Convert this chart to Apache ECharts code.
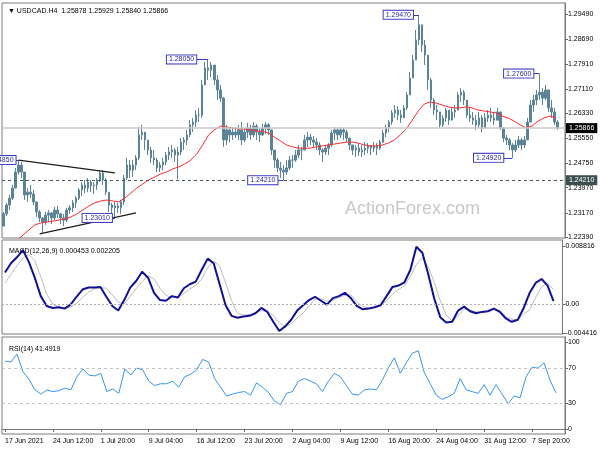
<!DOCTYPE html>
<html><head><meta charset="utf-8">
<script src="https://cdn.jsdelivr.net/npm/echarts@6/dist/echarts.min.js"></script>
<style>html,body{margin:0;padding:0;background:#fff}#c{width:600px;height:450px}</style>
</head><body><div id="c"></div>
<script>
// ---- price bars (H4, sampled every 8h) ----
const priceLow = [
1.2275,1.2307,1.2326,1.2358,1.2396,1.2438,1.2428,1.2358,1.2352,1.2364,
1.2342,1.2304,1.2288,1.2253,1.2279,1.2288,1.2282,1.2294,1.2301,1.2282,
1.2275,1.2288,1.2314,1.2320,1.2333,1.2358,1.2371,1.2380,1.2383,1.2383,
1.2377,1.2390,1.2415,1.2406,1.2374,1.2320,1.2307,1.2301,1.2317,1.2314,
1.2342,1.2422,1.2428,1.2431,1.2453,1.2485,1.2549,1.2517,1.2501,1.2476,
1.2469,1.2447,1.2447,1.2453,1.2469,1.2485,1.2492,1.2479,1.2424,1.2501,
1.2517,1.2533,1.2558,1.2574,1.2590,1.2606,1.2619,1.2724,1.2740,1.2749,
1.2724,1.2676,1.2670,1.2527,1.2533,1.2542,1.2549,1.2555,1.2549,1.2533,
1.2542,1.2555,1.2549,1.2558,1.2549,1.2542,1.2562,1.2568,1.2565,1.2501,
1.2460,1.2447,1.2428,1.2421,1.2438,1.2453,1.2460,1.2479,1.2492,1.2485,
1.2517,1.2527,1.2533,1.2523,1.2517,1.2501,1.2479,1.2501,1.2501,1.2527,
1.2549,1.2549,1.2555,1.2549,1.2542,1.2517,1.2501,1.2495,1.2498,1.2495,
1.2501,1.2507,1.2501,1.2511,1.2501,1.2517,1.2539,1.2558,1.2574,1.2597,
1.2619,1.2612,1.2603,1.2619,1.2644,1.2692,1.2746,1.2803,1.2851,1.2829,
1.2787,1.2708,1.2651,1.2628,1.2612,1.2587,1.2590,1.2606,1.2597,1.2612,
1.2619,1.2651,1.2670,1.2660,1.2619,1.2606,1.2597,1.2581,1.2587,1.2574,
1.2593,1.2606,1.2606,1.2597,1.2612,1.2581,1.2542,1.2533,1.2517,1.2492,
1.2511,1.2523,1.2517,1.2523,1.2549,1.2606,1.2638,1.2660,1.2676,1.2660,
1.2676,1.2638,1.2619,1.2597,1.2581];
const priceHigh = [
1.2320,1.2349,1.2374,1.2406,1.2460,1.2485,1.2479,1.2447,1.2396,1.2406,
1.2390,1.2352,1.2326,1.2304,1.2320,1.2326,1.2320,1.2336,1.2339,1.2317,
1.2314,1.2333,1.2342,1.2358,1.2371,1.2396,1.2415,1.2422,1.2428,1.2422,
1.2415,1.2428,1.2453,1.2453,1.2428,1.2383,1.2349,1.2352,1.2349,1.2358,
1.2438,1.2492,1.2485,1.2485,1.2501,1.2590,1.2597,1.2574,1.2549,1.2527,
1.2517,1.2492,1.2479,1.2492,1.2511,1.2527,1.2533,1.2523,1.2527,1.2555,
1.2558,1.2581,1.2612,1.2619,1.2644,1.2651,1.2740,1.2797,1.2805,1.2797,
1.2787,1.2755,1.2724,1.2686,1.2597,1.2590,1.2587,1.2590,1.2597,1.2606,
1.2587,1.2603,1.2597,1.2606,1.2600,1.2587,1.2600,1.2606,1.2603,1.2581,
1.2517,1.2492,1.2479,1.2469,1.2485,1.2498,1.2501,1.2517,1.2533,1.2527,
1.2565,1.2574,1.2568,1.2562,1.2555,1.2542,1.2523,1.2533,1.2539,1.2581,
1.2590,1.2587,1.2590,1.2587,1.2581,1.2555,1.2533,1.2533,1.2539,1.2533,
1.2542,1.2539,1.2533,1.2542,1.2539,1.2549,1.2581,1.2597,1.2612,1.2644,
1.2660,1.2657,1.2644,1.2660,1.2701,1.2765,1.2819,1.2899,1.2947,1.2915,
1.2867,1.2819,1.2746,1.2682,1.2660,1.2638,1.2628,1.2651,1.2644,1.2651,
1.2660,1.2701,1.2714,1.2708,1.2676,1.2651,1.2638,1.2628,1.2638,1.2628,
1.2635,1.2644,1.2651,1.2638,1.2651,1.2638,1.2587,1.2565,1.2555,1.2539,
1.2549,1.2562,1.2555,1.2562,1.2619,1.2676,1.2692,1.2708,1.2760,1.2714,
1.2724,1.2708,1.2676,1.2651,1.2612];
const priceClose = [
1.2314,1.2342,1.2364,1.2396,1.2447,1.2469,1.2447,1.2374,1.2383,1.2377,
1.2352,1.2320,1.2301,1.2288,1.2310,1.2317,1.2301,1.2326,1.2314,1.2301,
1.2294,1.2326,1.2333,1.2349,1.2364,1.2390,1.2406,1.2396,1.2415,1.2403,
1.2406,1.2422,1.2444,1.2422,1.2383,1.2342,1.2333,1.2339,1.2333,1.2352,
1.2428,1.2469,1.2453,1.2469,1.2492,1.2565,1.2574,1.2549,1.2517,1.2492,
1.2485,1.2460,1.2469,1.2479,1.2501,1.2511,1.2517,1.2501,1.2511,1.2542,
1.2549,1.2565,1.2597,1.2606,1.2628,1.2628,1.2724,1.2778,1.2771,1.2787,
1.2740,1.2708,1.2682,1.2549,1.2581,1.2565,1.2574,1.2565,1.2581,1.2549,
1.2574,1.2587,1.2565,1.2593,1.2574,1.2565,1.2587,1.2597,1.2581,1.2517,
1.2485,1.2460,1.2453,1.2447,1.2460,1.2485,1.2485,1.2501,1.2517,1.2517,
1.2549,1.2558,1.2549,1.2542,1.2533,1.2517,1.2511,1.2523,1.2533,1.2571,
1.2581,1.2565,1.2581,1.2574,1.2555,1.2533,1.2517,1.2523,1.2511,1.2517,
1.2523,1.2530,1.2523,1.2530,1.2523,1.2542,1.2571,1.2587,1.2606,1.2635,
1.2644,1.2628,1.2619,1.2651,1.2692,1.2746,1.2803,1.2867,1.2915,1.2851,
1.2819,1.2740,1.2676,1.2644,1.2638,1.2597,1.2619,1.2644,1.2612,1.2638,
1.2644,1.2692,1.2701,1.2676,1.2628,1.2619,1.2612,1.2597,1.2619,1.2587,
1.2619,1.2628,1.2619,1.2612,1.2638,1.2587,1.2555,1.2549,1.2533,1.2517,
1.2533,1.2549,1.2533,1.2549,1.2606,1.2660,1.2676,1.2692,1.2701,1.2682,
1.2708,1.2651,1.2638,1.2606,1.25866];

// ---- indicators (sampled every 16h) ----
const maValues = [
1.2199,1.2212,1.2228,1.2247,1.2263,1.2279,1.2285,1.2288,1.2291,1.2294,
1.2298,1.2304,1.2314,1.2326,1.2339,1.2349,1.2355,1.2358,1.2355,1.2352,
1.2364,1.2380,1.2396,1.2409,1.2422,1.2431,1.2441,1.2447,1.2457,1.2463,
1.2472,1.2485,1.2504,1.2533,1.2565,1.2581,1.2593,1.2590,1.2587,1.2584,
1.2584,1.2581,1.2577,1.2577,1.2571,1.2558,1.2546,1.2533,1.2527,1.2523,
1.2523,1.2523,1.2527,1.2530,1.2533,1.2536,1.2539,1.2542,1.2542,1.2539,
1.2533,1.2530,1.2530,1.2533,1.2539,1.2549,1.2565,1.2584,1.2612,1.2641,
1.2663,1.2670,1.2666,1.2660,1.2654,1.2651,1.2651,1.2654,1.2651,1.2644,
1.2641,1.2638,1.2635,1.2625,1.2619,1.2609,1.2597,1.2587,1.2593,1.2609,
1.2619,1.2625,1.2619];
const macdValues = [
0.0048,0.0062,0.0071,0.0082,0.0064,0.0040,0.0012,-0.0003,-0.0006,-0.0005,
-0.0007,-0.0001,0.0011,0.0022,0.0025,0.0025,0.0026,0.0011,-0.0003,-0.0010,
0.0006,0.0025,0.0035,0.0049,0.0040,0.0017,0.0006,0.0005,0.0012,0.0010,
0.0024,0.0030,0.0034,0.0052,0.0069,0.0062,0.0030,-0.0002,-0.0018,-0.0021,
-0.0019,-0.0018,-0.0014,-0.0006,-0.0012,-0.0027,-0.0041,-0.0034,-0.0024,-0.0010,
-0.0002,0.0006,0.0011,0.0005,-0.0001,0.0009,0.0012,0.0017,0.0009,-0.0003,
-0.0008,-0.0007,-0.0005,-0.0002,0.0012,0.0026,0.0028,0.0033,0.0052,0.0087,
0.0078,0.0045,0.0008,-0.0020,-0.0028,-0.0027,-0.0010,-0.0004,-0.0011,-0.0014,
-0.0012,-0.0011,-0.0007,-0.0012,-0.0022,-0.0027,-0.0024,-0.0006,0.0017,0.0032,
0.0038,0.0028,0.000453];
const signalValues = [
0.0032,0.0045,0.0058,0.0070,0.0075,0.0066,0.0042,0.0015,0.0000,-0.0004,
-0.0006,-0.0005,0.0001,0.0010,0.0018,0.0023,0.0025,0.0024,0.0014,0.0003,
0.0000,0.0012,0.0023,0.0034,0.0043,0.0038,0.0024,0.0013,0.0010,0.0010,
0.0016,0.0023,0.0028,0.0038,0.0055,0.0065,0.0058,0.0032,0.0005,-0.0014,
-0.0017,-0.0016,-0.0014,-0.0010,-0.0011,-0.0017,-0.0028,-0.0035,-0.0030,-0.0021,
-0.0014,-0.0003,0.0007,0.0008,0.0004,0.0006,0.0010,0.0013,0.0014,0.0004,
-0.0004,-0.0006,-0.0005,-0.0002,0.0005,0.0015,0.0022,0.0028,0.0042,0.0060,
0.0070,0.0056,0.0033,0.0005,-0.0017,-0.0026,-0.0018,-0.0008,-0.0009,-0.0012,
-0.0012,-0.0011,-0.0008,-0.0010,-0.0019,-0.0023,-0.0024,-0.0015,-0.0009,0.0010,
0.0026,0.0032,0.002205];
const rsiValues = [
78,77,86,66,57,45,40,45,43,44,
47,45,60,69,62,61,64,43,46,41,
69,62,70,68,55,50,52,52,55,48,
60,63,68,80,77,58,48,38,40,42,
43,39,53,48,42,32,28,41,43,55,
58,55,52,43,55,64,60,50,40,39,
45,46,45,56,70,82,64,76,87,90,
65,52,39,34,37,41,58,45,43,41,
51,39,51,40,29,38,36,60,71,70,
76,56,41.4919];

// ---- axis ticks & labels ----
const priceTicks = [1.22390,1.23170,1.23970,1.24750,1.25550,1.26330,1.27110,1.27910,1.28690,1.29490];
const macdTicks = [-0.004416, 0, 0.008816];
const rsiTicks = [0, 30, 70, 100];
const rsiLevels = [30, 70];
const dateLabels = ['17 Jun 2021','24 Jun 12:00','1 Jul 20:00','9 Jul 04:00','16 Jul 12:00','23 Jul 20:00',
  '2 Aug 04:00','9 Aug 12:00','16 Aug 20:00','24 Aug 04:00','31 Aug 12:00','7 Sep 20:00'];
const currentPrice = 1.25866;
const supportLevel = 1.24210;
// swing high/low marks: [label start bar, bar, price]
const swingMarks = [[4,5,1.24850],[36,37,1.23010],[64,68,1.28050],[91,93,1.24210],[136,138,1.29470],[166,169,1.24920],[176,178,1.27600]];
// trend lines: [bar, price] -> [bar, price]
const trendLines = [[[5,1.2485],[37,1.2444]],[[12,1.2250],[44,1.2317]]];

const BAR_SLOTS = 187, IND_SLOTS = 94;
const FONT = 'Liberation Sans, Arial, sans-serif';
const barColor = '#5b8499';

const chart = echarts.init(document.getElementById('c'));
const ohlc = priceClose.map((c, i) => [i ? priceClose[i-1] : priceLow[0], c, priceLow[i], priceHigh[i]]);
const idx = n => Array.from({length: n}, (_, i) => String(i));

const markBox = {show:true, position:'start', distance:0, fontSize:7, color:'#2a2aa8', backgroundColor:'#fff',
  borderColor:'#3b3bc4', borderWidth:1, padding:[1,2,0,2], fontFamily: FONT};

const mlData = [
  {yAxis: currentPrice, lineStyle:{color:'#c9c9c9', width:1.5, type:'solid'},
   label:{show:true, position:'end', distance:1, formatter: currentPrice.toFixed(5), color:'#fff', backgroundColor:'#000', padding:[2,3,1,3], fontSize:7, fontFamily: FONT}},
  {yAxis: supportLevel, lineStyle:{color:'#4a5a5a', width:1, type:[3,3]},
   label:{show:true, position:'end', distance:1, formatter: supportLevel.toFixed(5), color:'#fff', backgroundColor:'#3d5050', padding:[2,3,1,3], fontSize:7, fontFamily: FONT}}
];
swingMarks.forEach(m => {
  const lab = Object.assign({}, markBox, {formatter: m[2].toFixed(5)});
  const ls = {color:'#3b3bc4', width:1, type:'solid'};
  mlData.push([{coord:[m[0], m[2]], label: lab, lineStyle: ls}, {coord:[m[1], m[2]], label: lab, lineStyle: ls}]);
});
trendLines.forEach(t => {
  const ls = {color:'#1e1e1e', width:1.3, type:'solid'};
  mlData.push([{coord:t[0], label:{show:false}, lineStyle: ls}, {coord:t[1], label:{show:false}, lineStyle: ls}]);
});

const axisLab = {fontSize:7, color:'#000', margin:3, fontFamily: FONT};
const tickStyle = {show:true, length:3, lineStyle:{color:'#666'}};

chart.setOption({
  animation: false,
  textStyle: {fontFamily: FONT},
  title: [
    {text:'▼ USDCAD.H4  1.25878 1.25929 1.25840 1.25866', left:3, top:3, textStyle:{fontSize:7, fontWeight:'normal', color:'#000', fontFamily: FONT}},
    {text:'MACD(12,26,9) 0.000453 0.002205', left:4, top:243, textStyle:{fontSize:7, fontWeight:'normal', color:'#000', fontFamily: FONT}},
    {text:'RSI(14) 41.4919', left:4, top:341, textStyle:{fontSize:7, fontWeight:'normal', color:'#000', fontFamily: FONT}}
  ],
  graphic: [{type:'text', left:345, top:200, silent:true, z:0,
    style:{text:'ActionForex.com', fontSize:18, fill:'#c8c8c8', fontFamily: FONT}}],
  grid: [
    {left:2, right:35, top:3, height:235, show:true, borderColor:'#7a7a7a', borderWidth:1},
    {left:2, right:35, top:240, height:94, show:true, borderColor:'#7a7a7a', borderWidth:1},
    {left:2, right:35, top:337, height:97, show:true, borderColor:'#7a7a7a', borderWidth:1}
  ],
  xAxis: [
    {type:'category', gridIndex:0, data: idx(BAR_SLOTS), show:false},
    {type:'category', gridIndex:0, data: idx(IND_SLOTS), show:false},
    {type:'category', gridIndex:1, data: idx(IND_SLOTS), show:false},
    {type:'category', gridIndex:2, data: idx(IND_SLOTS),
     axisLine:{show:true, lineStyle:{color:'#7a7a7a'}},
     axisTick:{show:true, interval:7, alignWithLabel:true, length:3, lineStyle:{color:'#666'}},
     axisLabel:Object.assign({}, axisLab, {interval:7, align:'left', margin:4, formatter:(v, i) => dateLabels[i/8] || ''})}
  ],
  yAxis: [
    {type:'value', gridIndex:0, position:'right', min:1.22372, max:1.29845, splitLine:{show:false},
     axisLine:{show:true, lineStyle:{color:'#7a7a7a'}},
     axisTick:Object.assign({customValues: priceTicks}, tickStyle),
     axisLabel:Object.assign({customValues: priceTicks, formatter: v => v.toFixed(5)}, axisLab)},
    {type:'value', gridIndex:1, position:'right', min:-0.00456, max:0.00973, splitLine:{show:false},
     axisLine:{show:true, lineStyle:{color:'#7a7a7a'}},
     axisTick:Object.assign({customValues: macdTicks}, tickStyle),
     axisLabel:Object.assign({customValues: macdTicks, formatter: v => v === 0 ? '0.00' : v.toFixed(6)}, axisLab)},
    {type:'value', gridIndex:2, position:'right', min:-5.75, max:105.75, splitLine:{show:false},
     axisLine:{show:true, lineStyle:{color:'#7a7a7a'}},
     axisTick:Object.assign({customValues: rsiTicks}, tickStyle),
     axisLabel:Object.assign({customValues: rsiTicks, formatter: v => String(v)}, axisLab)}
  ],
  series: [
    {type:'candlestick', xAxisIndex:0, yAxisIndex:0, data: ohlc, barWidth:2,
     itemStyle:{color:barColor, color0:barColor, borderColor:barColor, borderColor0:barColor, borderWidth:1},
     markLine:{silent:true, precision:6, symbol:['none','none'], animation:false, data: mlData}},
    {type:'line', xAxisIndex:1, yAxisIndex:0, data: maValues, showSymbol:false, clip:true,
     lineStyle:{color:'#ff2a2a', width:1}, z:3},
    {type:'line', xAxisIndex:2, yAxisIndex:1, data: signalValues, showSymbol:false,
     lineStyle:{color:'#bdbdbd', width:1},
     markLine:{silent:true, precision:6, symbol:['none','none'], label:{show:false},
       lineStyle:{color:'#b0b0b0', type:[2,2], width:1}, data:[{yAxis:0}]}},
    {type:'line', xAxisIndex:2, yAxisIndex:1, data: macdValues, showSymbol:false,
     lineStyle:{color:'#101098', width:2}},
    {type:'line', xAxisIndex:3, yAxisIndex:2, data: rsiValues, showSymbol:false,
     lineStyle:{color:'#3594f5', width:1},
     markLine:{silent:true, symbol:['none','none'], label:{show:false},
       lineStyle:{color:'#c4c4c4', type:[3,3], width:1}, data: rsiLevels.map(v => ({yAxis:v}))}}
  ]
});
</script></body></html>
